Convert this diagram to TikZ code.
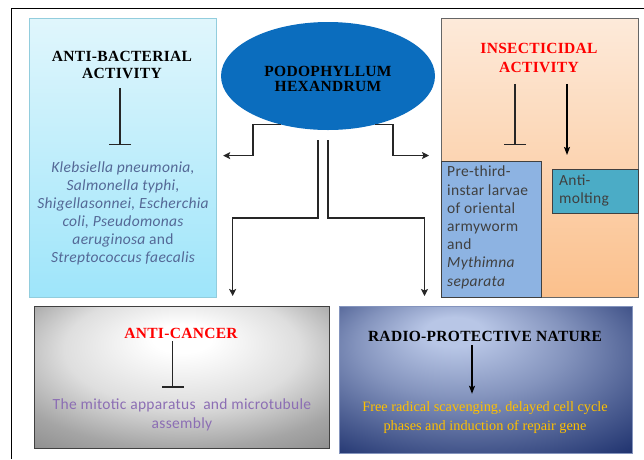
\documentclass[tikz,border=0pt]{standalone}
\usepackage{fontspec}
\setmainfont{Liberation Serif}
\setsansfont{Carlito}
\usetikzlibrary{arrows.meta,shapes.geometric,calc}
\definecolor{abtop}{RGB}{224,246,252}
\definecolor{abbot}{RGB}{158,229,250}
\definecolor{abline}{RGB}{146,205,221}
\definecolor{abtext}{RGB}{84,104,150}
\definecolor{podblue}{RGB}{11,109,190}
\definecolor{peachtop}{RGB}{253,234,218}
\definecolor{peachbot}{RGB}{251,192,140}
\definecolor{preblue}{RGB}{141,179,226}
\definecolor{moltc}{RGB}{75,172,198}
\definecolor{darkline}{RGB}{64,64,64}
\definecolor{prtext}{RGB}{64,64,64}
\definecolor{purp}{RGB}{140,110,180}
\definecolor{gold}{RGB}{255,192,0}
\definecolor{navyhi}{RGB}{184,198,230}
\definecolor{navylo}{RGB}{10,30,94}
\definecolor{gA}{RGB}{255,255,255}
\definecolor{gB}{RGB}{222,222,222}
\definecolor{gC}{RGB}{165,165,165}
\definecolor{gD}{RGB}{135,135,135}
\definecolor{gE}{RGB}{105,105,105}
\pgfdeclareradialshading{greyrad}{\pgfpoint{0bp}{15bp}}{color(0bp)=(gA); color(5bp)=(gA); color(20bp)=(gB); color(32bp)=(gC); color(42bp)=(gD); color(60bp)=(gE)}
\pgfdeclareradialshading{navyrad}{\pgfpoint{-6bp}{18bp}}{color(0bp)=(navyhi); color(5bp)=(navyhi); color(18bp)=(navyhi!70!navylo); color(30bp)=(navyhi!38!navylo); color(40bp)=(navyhi!12!navylo); color(55bp)=(navylo)}
\tikzset{
  boxbase/.style={rectangle, anchor=north west, inner sep=0pt},
  ttl/.style={font=\bfseries\fontsize{15.5}{17}\selectfont\addfontfeature{LetterSpace=2}, align=center, inner sep=0pt},
  body/.style={font=\sffamily\fontsize{15.5}{18}\selectfont\addfontfeature{LetterSpace=2}, inner sep=0pt},
  arr/.style={draw=black!85, line width=1.5pt, -{Stealth[length=7pt,width=7pt,inset=1.5pt]}},
  inh/.style={draw=black!85, line width=1.3pt, -{Bar[width=22pt,line width=1.5pt]}},
  arrin/.style={draw=black, line width=1.3pt, -{Stealth[length=8pt,width=6pt,inset=1.5pt]}}
}
\begin{document}
\begin{tikzpicture}[x=1pt,y=-1pt]
\useasboundingbox (0,0) rectangle (644,459);
\fill[white] (0,0) rectangle (644,459);
% outer frame
\draw[black, line width=1pt] (11,459) -- (11,8) -- (644,8);

% boxes
\node[boxbase, minimum width=187, minimum height=279, top color=abtop, bottom color=abbot, draw=abline, line width=1.2pt] (ab) at (29,18) {};
\node[boxbase, minimum width=197, minimum height=279, top color=peachtop, bottom color=peachbot, draw=black!60, line width=1pt] (ins) at (441,18) {};
\node[boxbase, minimum width=100, minimum height=136, fill=preblue, draw=darkline, line width=1pt] (pre) at (441,161) {};
\node[boxbase, minimum width=86, minimum height=44, fill=moltc, draw=darkline, line width=1pt] (mol) at (552,169) {};
\node[boxbase, minimum width=295, minimum height=142, shading=greyrad, draw=darkline, line width=1.3pt] (ac) at (34,306) {};
\node[boxbase, minimum width=293, minimum height=147, shading=navyrad, draw=navyhi!70!navylo, line width=1pt] (rp) at (339,306) {};

% ellipse
\node[ellipse, fill=podblue, minimum width=214, minimum height=108, inner sep=0pt] (pod) at (328,76) {};
\node[ttl, font=\bfseries\fontsize{15.5}{15.5}\selectfont\addfontfeature{LetterSpace=2}] (podT) at (328,79) {PODOPHYLLUM\\HEXANDRUM};

% texts
\node[ttl] (abT) at (122,65) {ANTI-BACTERIAL\\ACTIVITY};
\node[body, font=\sffamily\itshape\fontsize{15.5}{18}\selectfont\addfontfeature{LetterSpace=2}, text=abtext, align=center] (abB) at (123,213)
  {Klebsiella pneumonia,\\Salmonella typhi,\\Shigellasonnei, Escherchia\\coli, Pseudomonas\\aeruginosa \upshape and\\Streptococcus faecalis};

\node[ttl, text=red, font=\bfseries\fontsize{15.5}{19}\selectfont\addfontfeature{LetterSpace=2}] (insT) at (539,58) {INSECTICIDAL\\ACTIVITY};
\node[body, text=prtext, align=left, anchor=north west, font=\sffamily\fontsize{15.5}{18.2}\selectfont\addfontfeature{LetterSpace=2}] (preB) at (447,166)
  {Pre-third-\\instar larvae\\of oriental\\armyworm\\and\\\textit{Mythimna}\\\textit{separata}};
\node[body, text=prtext, align=left, anchor=north west] (molB) at (559,175) {Anti-\\molting};

\node[ttl, text=red] (acT) at (181,333) {ANTI-CANCER};
\node[body, text=purp, align=center, font=\sffamily\fontsize{15.5}{19}\selectfont\addfontfeature{LetterSpace=2}] (acB) at (182,415) {The mitotic apparatus\ \ and microtubule\\assembly};

\node[ttl] (rpT) at (485,336) {RADIO-PROTECTIVE NATURE};
\node[text=gold, align=center, inner sep=0pt, font=\fontsize{14.3}{19}\selectfont] (rpB) at (485,418) {Free radical scavenging, delayed cell cycle\\phases and induction of repair gene};

% connectors from ellipse
\draw[arr] (pod.226) -- ++(-28,0) |- ([xshift=6pt,yshift=2.5pt]ab.east);
\draw[arr] (pod.314) -- ++(18,0) |- ([xshift=-12pt,yshift=2.5pt]ins.west);
\draw[arr] ([xshift=-10pt,yshift=-10pt]pod.south) -- ++(0,78) -| ([xshift=50.5pt,yshift=10pt]ac.north);
\draw[arr] ([yshift=-10pt]pod.south) -- ++(0,78) -| ([xshift=-61.5pt,yshift=10pt]rp.north);

% inner connectors
\draw[inh] ([xshift=-2pt,yshift=-9pt]abT.south) -- ([xshift=-3pt,yshift=16pt]abB.north);
\draw[inh] (insT.south -| 515,0) ++(0,11) -- ([yshift=16pt]pre.north -| 515,0);
\draw[arrin] (insT.south -| 567,0) ++(0,11) -- ([yshift=14pt]mol.north -| 567,0);
\draw[inh] ([xshift=-8.5pt,yshift=-3pt]acT.south) -- ([xshift=-9.5pt,yshift=11pt]acB.north);
\draw[arrin] ([xshift=-13pt,yshift=-4pt]rpT.south) -- ([xshift=-13pt,yshift=8pt]rpB.north);
\end{tikzpicture}
\end{document}
